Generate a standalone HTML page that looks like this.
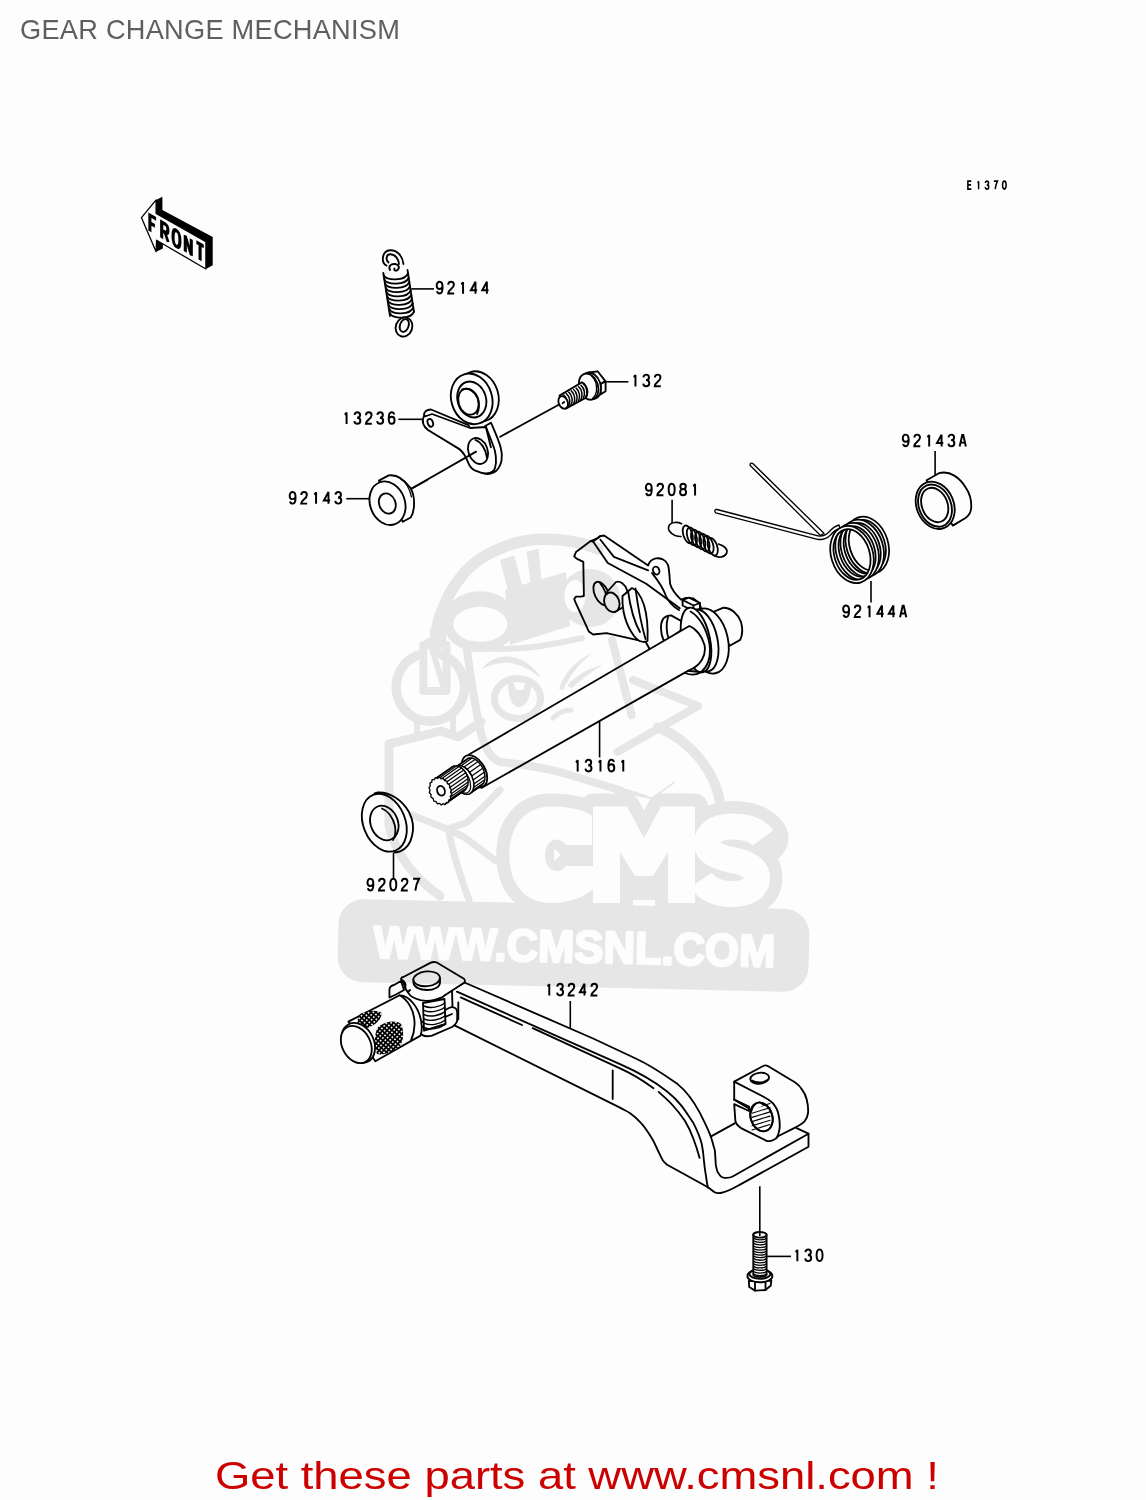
<!DOCTYPE html>
<html><head><meta charset="utf-8"><title>GEAR CHANGE MECHANISM</title>
<style>
html,body{margin:0;padding:0;background:#fcfdfc;}
body{width:1146px;height:1500px;overflow:hidden;position:relative;font-family:"Liberation Sans",sans-serif;}
h1{position:absolute;left:20px;top:13.7px;margin:0;font-weight:normal;font-size:27.2px;line-height:normal;color:#5f5f5f;letter-spacing:0.26px;white-space:nowrap;font-family:"Liberation Sans",sans-serif;}
.get{position:absolute;left:215px;top:1453px;margin:0;font-size:39.5px;line-height:normal;color:#cc0000;white-space:nowrap;transform-origin:0 0;transform:scaleX(1.149);font-family:"Liberation Sans",sans-serif;}
svg{position:absolute;left:0;top:0;}
.wm{mix-blend-mode:multiply;}
#labels text{font-family:"Liberation Sans",sans-serif;fill:#000;}
</style></head><body>
<h1>GEAR CHANGE MECHANISM</h1>
<svg width="1146" height="1500" viewBox="0 0 1146 1500">
<g id="parts" fill="#fcfdfc" stroke="#000" stroke-width="1.85" stroke-linejoin="round" stroke-linecap="round">
<defs><pattern id="knurl" width="3.4" height="3.4" patternUnits="userSpaceOnUse" patternTransform="rotate(40)">
<rect width="3.4" height="3.4" fill="#fcfdfc"/><path d="M0,0 L3.4,0 M0,0 L0,3.4" stroke="#000" stroke-width="0.9"/></pattern></defs><path d="M386.5,265.5 C381,263 381.5,251 390,250.3 C397,249.8 402.5,256 403.5,264" fill="none" stroke-width="1.9"/>
<path d="M388.5,262.5 C385.5,260 386,254 390.5,254.2 C395.5,254.5 398.5,259 399,264" fill="none" stroke-width="1.9"/>
<path d="M390,270 C388,266 391,263.5 395,264 C399,264.5 400,268 397.5,270 C395.5,271.5 393.5,270 394.5,268.5" fill="none" stroke-width="1.9"/>
<path d="M383.6,274.8 C385.1,281.4 405.5,281.0 408.0,273.4" fill="none" stroke-width="1.8"/>
<path d="M384.3,279.1 C385.8,285.6 406.2,285.2 408.7,277.6" fill="none" stroke-width="1.8"/>
<path d="M385.0,283.3 C386.5,289.9 406.8,289.5 409.3,281.9" fill="none" stroke-width="1.8"/>
<path d="M385.8,287.6 C387.3,294.1 407.5,293.8 410.0,286.1" fill="none" stroke-width="1.8"/>
<path d="M386.5,291.8 C388.0,298.4 408.2,298.0 410.7,290.4" fill="none" stroke-width="1.8"/>
<path d="M387.2,296.1 C388.7,302.6 408.8,302.2 411.3,294.6" fill="none" stroke-width="1.8"/>
<path d="M387.9,300.3 C389.4,306.9 409.5,306.5 412.0,298.9" fill="none" stroke-width="1.8"/>
<path d="M388.7,304.6 C390.2,311.1 410.2,310.8 412.7,303.1" fill="none" stroke-width="1.8"/>
<path d="M389.4,308.8 C390.9,315.4 410.8,315.0 413.3,307.4" fill="none" stroke-width="1.8"/>
<path d="M390.1,313.1 C391.6,319.6 411.5,319.2 414.0,311.6" fill="none" stroke-width="1.8"/>
<path d="M383.3,273 L390,316" fill="none" stroke-width="1.8"/>
<path d="M407.5,270 L414,312" fill="none" stroke-width="1.8"/>
<ellipse cx="404.0" cy="327.0" rx="8.2" ry="9.8" transform="rotate(20 404.0 327.0)" fill="none" stroke-width="1.9"/>
<ellipse cx="404.3" cy="325.5" rx="4.3" ry="6.6" transform="rotate(20 404.3 325.5)" fill="none" stroke-width="1.9"/>
<ellipse cx="478.0" cy="396.5" rx="20.3" ry="25.6" transform="rotate(-17 478.0 396.5)" />
<path d="M485.2,426 L491,422.8 C495,432 499,441 500.8,448 C503,456 502,465 496.6,470.4 C492,474 486,474.5 482,473 Z" />
<path d="M424,416 C423.5,412 426.5,409.5 431,409.5 L467.8,424.8 C470.3,426.3 470,430.3 467,431.8 L464,432.6 L429.5,416.5 Z" />
<path d="M423.5,417 C422,421 423,426 428,430 L457.8,448.1 C461,450 463.5,453 465.6,456.9 L469.1,464.7 C471,468 473,470 476.1,470.8 C480,472.5 484,473.5 486.6,473.4 C491,473 494,471.5 495,468 C497,462 496,452 493,445 L486,427 L470,428 L432,414 Z" />
<ellipse cx="430.3" cy="422.8" rx="2.6" ry="4.0" transform="rotate(-20 430.3 422.8)" fill="none"/>
<ellipse cx="478.0" cy="451.0" rx="9.6" ry="13.3" transform="rotate(-20 478.0 451.0)" />
<path d="M475.5,440 C481,442 486,449 487,458" fill="none"/>
<line x1="485.7" y1="426.3" x2="490.9" y2="447.3" />
<ellipse cx="471.7" cy="398.9" rx="20.4" ry="25.7" transform="rotate(-17 471.7 398.9)" />
<ellipse cx="471.8" cy="399.5" rx="14.2" ry="18.3" transform="rotate(-17 471.8 399.5)" fill="none"/>
<ellipse cx="468.5" cy="401.7" rx="10.0" ry="13.3" transform="rotate(-17 468.5 401.7)" />
<path d="M462,389.5 C468,387 474.5,391 477.5,398 C479.5,404 479,410 477,414" fill="none"/>
<line x1="411.3" y1="488.8" x2="476.1" y2="451.6" />
<line x1="427.2" y1="480.0" x2="411.3" y2="488.8" />
<path d="M378.9,480.6 L388.7,475.4 C395,474.5 403,478 410.1,487.6 C413,492 414.1,497 414.1,503 C414.1,509 413,514 410.7,517.5 L402.8,521.8 Z" />
<ellipse cx="387.5" cy="503.2" rx="17.4" ry="22.3" transform="rotate(-20 387.5 503.2)" />
<ellipse cx="387.3" cy="503.5" rx="8.1" ry="10.4" transform="rotate(-22 387.3 503.5)" />
<path d="M400,478.5 C406,482 410,490 411.5,497" fill="none" stroke-width="1.2"/>
<line x1="500.2" y1="436.7" x2="561.0" y2="403.5" />
<path d="M589.1,372.5 L597.6,371.3 L605.6,381.4 L605.6,391.2 L600.7,394.2 L594,397 Z" />
<path d="M592.8,374.4 L600.7,383.8 L605.6,381.4 M600.7,383.8 L600.7,394.2" fill="none"/>
<ellipse cx="591.0" cy="385.8" rx="9.6" ry="13.6" transform="rotate(-18 591.0 385.8)" />
<ellipse cx="588.6" cy="386.6" rx="9.4" ry="13.4" transform="rotate(-18 588.6 386.6)" />
<path d="M591.5,376 C595,379 597,385 596.5,391 C596,394.5 594.5,397 592.5,398.5" fill="none" stroke-width="1.3"/>
<path d="M559.5,395.6 L582,382.3 C585,383.5 587.5,388 587.5,392 C587.5,395 586.5,397 585.5,398 L565.8,408.6 Z" />
<path d="M563.8,395.0 C567.8,398.1 568.0,404.6 566.2,407.8" fill="none" stroke-width="1.5"/>
<path d="M566.3,393.6 C570.3,396.7 570.5,403.2 568.7,406.4" fill="none" stroke-width="1.5"/>
<path d="M568.7,392.2 C572.7,395.3 572.9,401.8 571.1,405.0" fill="none" stroke-width="1.5"/>
<path d="M571.2,390.9 C575.2,394.0 575.4,400.5 573.6,403.7" fill="none" stroke-width="1.5"/>
<path d="M573.6,389.5 C577.6,392.6 577.8,399.1 576.0,402.3" fill="none" stroke-width="1.5"/>
<path d="M576.1,388.1 C580.1,391.2 580.2,397.7 578.5,400.9" fill="none" stroke-width="1.5"/>
<path d="M578.5,386.7 C582.5,389.8 582.7,396.3 580.9,399.5" fill="none" stroke-width="1.5"/>
<path d="M581.0,385.3 C585.0,388.4 585.1,394.9 583.4,398.1" fill="none" stroke-width="1.5"/>
<path d="M583.4,384.0 C587.4,387.1 587.6,393.6 585.8,396.8" fill="none" stroke-width="1.5"/>
<ellipse cx="563.2" cy="402.4" rx="4.5" ry="6.5" transform="rotate(-22 563.2 402.4)" />
<line x1="562.6" y1="403.2" x2="564.2" y2="402.0" />
<path d="M926.6,480.2 L938.9,473.2 C950,470 960,478 966,488 C970,494 971.5,501 971.2,507.3 C971,512 969,515.5 965.9,517.7 L952.8,525.6 Z" />
<ellipse cx="935.2" cy="505.3" rx="18.6" ry="24.4" transform="rotate(-22 935.2 505.3)" />
<ellipse cx="935.0" cy="505.6" rx="16.0" ry="21.8" transform="rotate(-22 935.0 505.6)" fill="none"/>
<ellipse cx="934.7" cy="505.0" rx="12.8" ry="17.8" transform="rotate(-22 934.7 505.0)" />
<path d="M681.6,523.7 C678,522 671,521.5 668.8,526 C667.5,529.5 670,533.5 675,535.5 C677,536.2 679,536.5 680.9,536.5" fill="none" stroke-width="1.7"/>
<path d="M714.5,555.8 C718,557.8 724,557.8 726.5,553.5 C728.3,549.3 724.5,546 718.5,544" fill="none" stroke-width="1.7"/>
<ellipse cx="687.8" cy="534.4" rx="4.5" ry="9.2" transform="rotate(-18 687.8 534.4)" fill="none" stroke-width="1.8"/>
<ellipse cx="691.9" cy="536.4" rx="4.5" ry="9.2" transform="rotate(-18 691.9 536.4)" fill="none" stroke-width="1.8"/>
<ellipse cx="696.1" cy="538.5" rx="4.5" ry="9.2" transform="rotate(-18 696.1 538.5)" fill="none" stroke-width="1.8"/>
<ellipse cx="700.2" cy="540.5" rx="4.5" ry="9.2" transform="rotate(-18 700.2 540.5)" fill="none" stroke-width="1.8"/>
<ellipse cx="704.4" cy="542.6" rx="4.5" ry="9.2" transform="rotate(-18 704.4 542.6)" fill="none" stroke-width="1.8"/>
<ellipse cx="708.5" cy="544.6" rx="4.5" ry="9.2" transform="rotate(-18 708.5 544.6)" fill="none" stroke-width="1.8"/>
<ellipse cx="712.7" cy="546.7" rx="4.5" ry="9.2" transform="rotate(-18 712.7 546.7)" fill="none" stroke-width="1.8"/>
<path d="M750.2,465.5 C749.5,463.5 751.5,462.5 752.8,463.5 L824,533.3 L820.5,535.5 Z" stroke-width="1.3"/>
<path d="M715.8,512.8 C714,511.5 715,509 717,509.5 L818,535.8 C822,536.5 826,535 829,532 C832,528.5 835,526 839,525 L840,528.5 C836,529.5 833,532 830.5,535 C827,538.5 822,540 817.5,539.3 Z" stroke-width="1.3"/>
<ellipse cx="867.3" cy="545.2" rx="19.2" ry="27.6" transform="rotate(-18 867.3 545.2)" fill="none" stroke-width="5.0"/>
<ellipse cx="867.3" cy="545.2" rx="19.2" ry="27.6" transform="rotate(-18 867.3 545.2)" fill="none" stroke="#fcfdfc" stroke-width="1.5"/>
<ellipse cx="862.2" cy="548.3" rx="19.2" ry="27.6" transform="rotate(-18 862.2 548.3)" fill="none" stroke-width="5.0"/>
<ellipse cx="862.2" cy="548.3" rx="19.2" ry="27.6" transform="rotate(-18 862.2 548.3)" fill="none" stroke="#fcfdfc" stroke-width="1.5"/>
<ellipse cx="857.1" cy="551.4" rx="19.2" ry="27.6" transform="rotate(-18 857.1 551.4)" fill="none" stroke-width="5.0"/>
<ellipse cx="857.1" cy="551.4" rx="19.2" ry="27.6" transform="rotate(-18 857.1 551.4)" fill="none" stroke="#fcfdfc" stroke-width="1.5"/>
<ellipse cx="852.0" cy="554.5" rx="19.2" ry="27.6" transform="rotate(-18 852.0 554.5)" fill="none" stroke-width="5.0"/>
<ellipse cx="852.0" cy="554.5" rx="19.2" ry="27.6" transform="rotate(-18 852.0 554.5)" fill="none" stroke="#fcfdfc" stroke-width="1.5"/>
<path d="M574.2,556.3 L576,552 L590.7,541 L598,538 L600.4,536.1 L604.1,535.5 L648.1,565.4 C649.5,561 652,559 656,558.3 C661,557.8 666,560 668,565 C669.5,570 669.5,578 670.1,583.8 C671.5,589 675,594 681,599.6 L686,597.8 L693.3,598.4 L699.4,603.3 L712,640 L700,672 L660,668 L645.6,641.8 L606.5,633.2 L593.1,634.5 L588.8,631.4 L575.4,602.1 L574.2,599 L576,596.6 L580.9,596.6 L583.9,596 L583.3,561.8 L576.6,558.7 Z" />
<path d="M590.7,541 L593.1,541.5 L607.8,563 L646.2,583.8 L679.8,608.2" fill="none"/>
<path d="M600.4,539.8 L613.9,556.9 L648.1,570.3" fill="none"/>
<path d="M593.1,541.5 L600.4,536.1" fill="none"/>
<ellipse cx="656.2" cy="570.6" rx="3.1" ry="4.1" transform="rotate(-20 656.2 570.6)" />
<path d="M652,573 C656,578 662,585 666,596 C668,601 672,606 679,610" fill="none"/>
<ellipse cx="601.5" cy="593.5" rx="6.8" ry="12.5" transform="rotate(-25 601.5 593.5)" />
<path d="M600,583 C604,588 607,595 607.5,602" fill="none"/>
<path d="M607,592 L616,582 C620,580.5 625,584 627,590 C629,597 628,603 625,606 L615,612 Z" />
<ellipse cx="611.8" cy="602.3" rx="7.4" ry="10.0" transform="rotate(-20 611.8 602.3)" />
<path d="M622.5,596 C622,610 626,625 634,636 C638,641 643,643 647.5,641 C648,630 647,615 644,605 C641,596 637,590 632,588 Z" />
<path d="M635.5,588.5 C637,600 640,620 645.5,639" fill="none"/>
<path d="M628,591 C630,605 633,620 640,632" fill="none"/>
<path d="M663.4,639.9 C660.5,633 660,624 663,619 C665,616.5 668,615.5 671.1,615.4 L688.4,625 L666,641 Z" />
<path d="M668,617 C666,624 666.5,633 669,640" fill="none"/>
<path d="M682.6,600 L689,597.7 L699.9,603 L699.9,608.8 L693.5,611 L682.6,605.5 Z" />
<path d="M693.5,605.5 L699.9,603 M693.5,605.5 L693.5,611 M682.6,600 L693.5,605.5" fill="none"/>
<path d="M709.5,613.5 L722.9,607.8 C731,607.5 738,614 741,622 C743,629 742,636 740.2,639.9 L729.7,645.7 Z" />
<ellipse cx="708.5" cy="641.0" rx="19.5" ry="33.0" transform="rotate(-12 708.5 641.0)" />
<ellipse cx="702.0" cy="640.5" rx="15.5" ry="31.5" transform="rotate(-12 702.0 640.5)" />
<ellipse cx="696.0" cy="640.0" rx="14.0" ry="33.0" transform="rotate(-12 696.0 640.0)" />
<path d="M469,754.5 L689.3,626 C696,628.5 702,636 704.5,645 C706.5,655 701,666 688.4,670.6 L481.8,787.8 Z" />
<path d="M690.5,611.5 C700,617 707,630 709.5,644 C711,656 708,667 700,672.8 C696,675 690,675 685,673" fill="none"/>
<ellipse cx="474.5" cy="771.3" rx="10.6" ry="17.6" transform="rotate(-30 474.5 771.3)" />
<polygon points="456.6,766.2 458.2,765.7 459.9,765.7 461.8,766.0 463.7,766.8 465.5,768.0 467.3,769.6 469.0,771.5 470.5,773.6 471.7,775.9 472.7,778.4 473.4,780.9 473.7,783.4 473.8,785.7 473.5,787.9 472.9,789.9 472.0,791.6 470.8,792.9 469.4,793.8 480.5,786.1 481.9,785.2 483.1,783.9 484.0,782.2 484.6,780.3 484.9,778.1 484.8,775.7 484.4,773.2 483.8,770.7 482.8,768.2 481.5,765.9 480.0,763.8 478.4,761.9 476.6,760.3 474.7,759.1 472.9,758.3 471.0,758.0 469.3,758.0 467.6,758.5" stroke-width="1.4"/>
<line x1="458.2" y1="765.7" x2="469.3" y2="758.0" stroke-width="1.2"/>
<line x1="461.0" y1="765.8" x2="472.1" y2="758.1" stroke-width="1.2"/>
<line x1="464.0" y1="767.0" x2="475.1" y2="759.4" stroke-width="1.2"/>
<line x1="467.0" y1="769.3" x2="478.0" y2="761.6" stroke-width="1.2"/>
<line x1="469.6" y1="772.3" x2="480.7" y2="764.6" stroke-width="1.2"/>
<line x1="471.7" y1="775.9" x2="482.8" y2="768.2" stroke-width="1.2"/>
<line x1="473.1" y1="779.9" x2="484.2" y2="772.2" stroke-width="1.2"/>
<line x1="473.8" y1="783.9" x2="484.9" y2="776.2" stroke-width="1.2"/>
<line x1="473.6" y1="787.5" x2="484.7" y2="779.8" stroke-width="1.2"/>
<line x1="472.6" y1="790.6" x2="483.7" y2="782.9" stroke-width="1.2"/>
<line x1="470.8" y1="792.9" x2="481.9" y2="785.2" stroke-width="1.2"/>
<ellipse cx="463.0" cy="780.0" rx="9.6" ry="15.2" transform="rotate(-25 463.0 780.0)" stroke-width="1.4"/>
<ellipse cx="461.8" cy="780.8" rx="7.6" ry="13.2" transform="rotate(-25 461.8 780.8)" fill="none" stroke-width="1.2"/>
<polygon points="435.6,778.3 437.4,777.9 439.2,777.9 441.1,778.3 442.9,779.1 444.7,780.2 446.3,781.7 447.7,783.5 448.9,785.4 449.9,787.6 450.5,789.9 450.9,792.2 450.9,794.5 450.6,796.6 450.0,798.6 449.1,800.4 447.9,801.9 446.5,803.1 445.0,803.9 462.2,791.9 463.8,791.1 465.2,789.9 466.3,788.5 467.2,786.7 467.9,784.7 468.1,782.5 468.1,780.2 467.8,777.9 467.1,775.6 466.2,773.5 464.9,771.5 463.5,769.7 461.9,768.2 460.1,767.1 458.3,766.3 456.4,765.9 454.6,765.9 452.9,766.4" stroke-width="1.4"/>
<line x1="436.7" y1="778.0" x2="453.9" y2="766.1" stroke-width="1.2"/>
<line x1="439.2" y1="777.9" x2="456.4" y2="765.9" stroke-width="1.2"/>
<line x1="441.8" y1="778.6" x2="459.0" y2="766.6" stroke-width="1.2"/>
<line x1="444.3" y1="780.0" x2="461.5" y2="768.0" stroke-width="1.2"/>
<line x1="446.6" y1="782.0" x2="463.8" y2="770.0" stroke-width="1.2"/>
<line x1="448.5" y1="784.6" x2="465.7" y2="772.7" stroke-width="1.2"/>
<line x1="449.9" y1="787.6" x2="467.1" y2="775.6" stroke-width="1.2"/>
<line x1="450.7" y1="790.8" x2="467.9" y2="778.8" stroke-width="1.2"/>
<line x1="450.9" y1="794.0" x2="468.2" y2="782.0" stroke-width="1.2"/>
<line x1="450.5" y1="797.1" x2="467.8" y2="785.1" stroke-width="1.2"/>
<line x1="449.5" y1="799.7" x2="466.7" y2="787.8" stroke-width="1.2"/>
<line x1="447.9" y1="801.9" x2="465.2" y2="789.9" stroke-width="1.2"/>
<line x1="445.9" y1="803.4" x2="463.1" y2="791.5" stroke-width="1.2"/>
<polygon points="435.4,777.6 437.6,778.5 439.2,777.1 441.1,778.9 443.2,778.3 444.6,780.7 446.8,781.1 447.5,783.8 449.6,785.0 449.6,787.7 451.3,789.7 450.6,792.1 451.7,794.6 450.3,796.3 450.7,799.0 448.8,800.0 448.5,802.5 446.3,802.5 445.2,804.6 443.0,803.7 441.4,805.1 439.5,803.3 437.4,803.9 436.0,801.5 433.8,801.1 433.1,798.4 431.0,797.2 431.0,794.5 429.3,792.5 430.0,790.1 428.9,787.6 430.3,785.9 429.9,783.2 431.8,782.2 432.1,779.7 434.3,779.7" stroke-width="1.3"/>
<ellipse cx="441.0" cy="790.8" rx="3.8" ry="4.9" transform="rotate(-20 441.0 790.8)" />
<path d="M374.5,793.5 L378,792.5 C390,792 402,800 409,812 C413,820 414,829 412,836 C410.5,843 406,849 400,851.5 L395,852.5 Z" />
<ellipse cx="384.3" cy="822.7" rx="21.0" ry="30.0" transform="rotate(-22 384.3 822.7)" />
<ellipse cx="384.3" cy="823.0" rx="13.6" ry="17.8" transform="rotate(-22 384.3 823.0)" />
<path d="M382,808.5 C388,811 393,818 395,826 C396,832 395,837 393,840" fill="none"/>
<path d="M452,990 L464.5,982.5 L593.1,1038.5 L635.7,1058.5 C650,1065 662,1073 677.6,1084.1 C685,1090 693,1100 699.6,1112.4 C704,1121 709,1131 711.1,1137.5 C713,1143 714.5,1150 714.8,1150 C715.5,1157 715.5,1162 715.8,1164.7 C716.5,1169 717,1172 718.4,1173.1 C720,1176 722,1177.8 724.7,1177.8 C728,1178 731,1177.5 733.1,1176.2 L808.5,1133.7 L808.5,1146.8 L740,1184.6 C733,1188.5 727,1192 720.5,1193 C717,1193.5 716,1193 714.2,1192 L708,1187.2 L667.1,1164.7 C665,1163 664,1162 662.9,1160.5 C660,1155 659,1152.5 657.7,1150 C655,1144 653,1140 651.4,1137.5 C648,1132 644,1126 640.9,1122.8 C637,1118.5 633.5,1115.5 630.5,1113.4 C627,1111 623,1109.5 620,1107.6 L453,1024.6 Z" />
<line x1="711.1" y1="1136.4" x2="734.7" y2="1123.4" />
<line x1="796.6" y1="1128.1" x2="808.5" y2="1133.7" />
<path d="M456.9,991.7 L620,1064.2 C640,1073 655,1082 667.1,1091.4 C673,1096 677,1100 681.8,1106.1 C687,1113 690,1118 693.3,1122.8 C697,1130 700,1137 701.7,1143.8 C703,1150 703.5,1155 703.8,1159.5 C704.5,1166 705,1171 705.9,1175.2 C706.5,1180 707,1184 708,1187.7" fill="none"/>
<path d="M460.7,997.4 L522,1025 M532.7,1028.2 L620,1068.4 C635,1075 645,1082 653.5,1088.3 M658.7,1091.9 C663,1096 668,1100 672.4,1105 C677,1110 681,1115 684.9,1120.7 C688,1126 691,1132 693.3,1138.5 C695,1143 698,1152 699.6,1157.9" fill="none"/>
<line x1="458.3" y1="1002.4" x2="458.3" y2="1019.4" />
<line x1="612.7" y1="1070.4" x2="612.7" y2="1099.0" />
<path d="M734.2,1081.6 L763.7,1065.7 C765,1065 767,1065.5 768.3,1066.2 L789.8,1079.3 C795,1082 799,1085 801.2,1088.4 C804,1092 806,1096 806.8,1099.7 C808,1105 808.5,1109 808,1113.3 C807.5,1117 806,1119.5 804.6,1121.3 C802,1124 799,1125.5 796.6,1126.9 L778.5,1136 C776,1139 772,1141.5 767.1,1141.1 L741,1128.1 C738,1126 736,1124 735.4,1121.3 L734.2,1104.2 L749,1111 L749,1108.5 L734.2,1099.7 Z" />
<path d="M734.2,1081.6 L762.6,1096.3 C768,1099 771.5,1102 772.8,1103.1 C776,1107 778,1111 778.5,1114.5 C779.5,1119 780,1124 779.6,1128.1 C779,1133 777.5,1136.5 776.2,1138.3" fill="none"/>
<path d="M734.2,1099.7 L749,1106.5 L749,1108.5" fill="none"/>
<ellipse cx="761.5" cy="1117.0" rx="10.8" ry="14.6" transform="rotate(-18 761.5 1117.0)" />
<line x1="752.0" y1="1109.0" x2="770.0" y2="1103.5" stroke-width="1.1"/>
<line x1="752.0" y1="1113.2" x2="770.0" y2="1107.7" stroke-width="1.1"/>
<line x1="752.0" y1="1117.4" x2="770.0" y2="1111.9" stroke-width="1.1"/>
<line x1="752.0" y1="1121.6" x2="770.0" y2="1116.1" stroke-width="1.1"/>
<line x1="752.0" y1="1125.8" x2="770.0" y2="1120.3" stroke-width="1.1"/>
<line x1="752.0" y1="1130.0" x2="770.0" y2="1124.5" stroke-width="1.1"/>
<ellipse cx="761.5" cy="1117.0" rx="10.8" ry="14.6" transform="rotate(-18 761.5 1117.0)" fill="none"/>
<path d="M751,1112 C752,1106 756,1102 760,1102.5 L764,1105" fill="#fcfdfc"/>
<ellipse cx="759.7" cy="1078.2" rx="9.4" ry="5.4" transform="rotate(-8 759.7 1078.2)" />
<path d="M752,1080.5 C755,1083 764,1083.5 767.5,1080" fill="none"/>
<path d="M389.5,997.5 L389.4,990 C389.5,987 391,985.5 394,985 L401,981 L404,990 L396,994.5 Z" />
<path d="M420.5,1023 L449,1008 C453,1006 457,1008 457.2,1012 L457.2,1020 C457,1023 455,1025 452,1027 L432,1035.6 C426,1037 422,1036 420.5,1033 Z" />
<path d="M420.5,1027.5 L452,1014" fill="none"/>
<path d="M423,1003 L444.5,999 L445.5,1024 L424,1030.7 Z" />
<path d="M424,1006.0 C430,1009.0 440,1007.0 445,1003.0" fill="none" stroke-width="1.4"/>
<path d="M424,1010.3 C430,1013.3 440,1011.3 445,1007.3" fill="none" stroke-width="1.4"/>
<path d="M424,1014.6 C430,1017.6 440,1015.6 445,1011.6" fill="none" stroke-width="1.4"/>
<path d="M424,1018.9 C430,1021.9 440,1019.9 445,1015.9" fill="none" stroke-width="1.4"/>
<path d="M424,1023.2 C430,1026.2 440,1024.2 445,1020.2" fill="none" stroke-width="1.4"/>
<path d="M424,1027.5 C430,1030.5 440,1028.5 445,1024.5" fill="none" stroke-width="1.4"/>
<path d="M401,978.8 C401.5,977.5 402.5,977 403.4,977 L430.3,962.9 C432,962 434.5,961.8 436.4,962.3 L463.9,978.8 C465,979.5 465,981.5 464.5,982.5 L446,994.5 C444,996 443.5,996.5 442.5,997.1 C435,1000.5 427,1001.5 420.5,1000.2 C414,998.5 410,996 408.3,992.9 C406,990 405,988 404.6,985.5 Z" />
<path d="M405,988 C407,983 403,980.5 401.5,980" fill="none"/>
<path d="M408,992 L410,990" fill="none"/>
<path d="M413.5,979 L413.5,983 C414,987.5 420,990 427,990 C434,990 440,987 440,982.5 L440,979 Z" />
<ellipse cx="426.7" cy="978.8" rx="13.3" ry="7.4" transform="rotate(-5 426.7 978.8)" />
<path d="M348.4,1021.6 L399.7,995.3 C405,995.5 410,999 413,1003 C418,1009 421,1016 421.7,1025.9 C422,1030 421.5,1033 420.5,1035.6 L375.3,1061.3 Z" />
<path d="M360,1014 C368,1010 378,1010 381.5,1013 C382,1018 377,1024 369,1027.5 C363,1029 358,1026 357,1021 Z" fill="url(#knurl)" stroke="none"/>
<path d="M378,1027 C386,1021 396,1020 401,1024 C404,1030 404,1040 400,1046 C394,1051 384,1056 377,1054 C374,1046 374,1034 378,1027 Z" fill="url(#knurl)" stroke="none"/>
<path d="M399.7,995.3 C408,1000 414,1010 414.5,1022 C415,1030 413,1036 411,1040.5" fill="none"/>
<ellipse cx="358.2" cy="1043.0" rx="15.6" ry="21.0" transform="rotate(-27 358.2 1043.0)" />
<ellipse cx="356.3" cy="1044.5" rx="14.2" ry="19.6" transform="rotate(-27 356.3 1044.5)" />
<path d="M748.8,1281 L749.2,1287 L755,1290.6 L765.5,1290 L770.8,1285.5 L771.3,1280.5 Z" />
<path d="M755,1283 L755,1290.6 M765.5,1282.5 L765.5,1290" fill="none"/>
<ellipse cx="759.9" cy="1276.0" rx="12.5" ry="6.3" transform="rotate(0 759.9 1276.0)" />
<ellipse cx="759.9" cy="1274.0" rx="10.5" ry="4.8" transform="rotate(0 759.9 1274.0)" fill="none"/>
<path d="M753.3,1234.5 L753.3,1275 C755,1277.5 765,1277.5 766.6,1275 L766.6,1234.5 Z" />
<path d="M753.5,1238.2 C756,1240.4 764,1240.4 766.4,1238.2" fill="none" stroke-width="1.3"/>
<path d="M753.5,1240.8 C756,1243.0 764,1243.0 766.4,1240.8" fill="none" stroke-width="1.3"/>
<path d="M753.5,1243.3 C756,1245.5 764,1245.5 766.4,1243.3" fill="none" stroke-width="1.3"/>
<path d="M753.5,1245.9 C756,1248.1 764,1248.1 766.4,1245.9" fill="none" stroke-width="1.3"/>
<path d="M753.5,1248.4 C756,1250.6 764,1250.6 766.4,1248.4" fill="none" stroke-width="1.3"/>
<path d="M753.5,1251.0 C756,1253.2 764,1253.2 766.4,1251.0" fill="none" stroke-width="1.3"/>
<path d="M753.5,1253.5 C756,1255.7 764,1255.7 766.4,1253.5" fill="none" stroke-width="1.3"/>
<path d="M753.5,1256.0 C756,1258.2 764,1258.2 766.4,1256.0" fill="none" stroke-width="1.3"/>
<path d="M753.5,1258.6 C756,1260.8 764,1260.8 766.4,1258.6" fill="none" stroke-width="1.3"/>
<path d="M753.5,1261.2 C756,1263.4 764,1263.4 766.4,1261.2" fill="none" stroke-width="1.3"/>
<path d="M753.5,1263.7 C756,1265.9 764,1265.9 766.4,1263.7" fill="none" stroke-width="1.3"/>
<path d="M753.5,1266.2 C756,1268.5 764,1268.5 766.4,1266.2" fill="none" stroke-width="1.3"/>
<path d="M753.5,1268.8 C756,1271.0 764,1271.0 766.4,1268.8" fill="none" stroke-width="1.3"/>
<path d="M753.5,1271.4 C756,1273.6 764,1273.6 766.4,1271.4" fill="none" stroke-width="1.3"/>
<path d="M753.5,1273.9 C756,1276.1 764,1276.1 766.4,1273.9" fill="none" stroke-width="1.3"/>
<ellipse cx="759.9" cy="1234.8" rx="6.6" ry="2.8" transform="rotate(0 759.9 1234.8)" />
</g>
<g id="leaders" stroke="#000" stroke-width="1.6">
<line x1="411.3" y1="288.9" x2="434.0" y2="288.9"/>
<line x1="602.8" y1="381.8" x2="628.4" y2="381.8"/>
<line x1="398.3" y1="419.3" x2="422.2" y2="419.3"/>
<line x1="346.3" y1="498.7" x2="369.9" y2="498.7"/>
<line x1="672.1" y1="499.7" x2="672.1" y2="522.9"/>
<line x1="935.1" y1="451.0" x2="935.1" y2="475.0"/>
<line x1="871.0" y1="581.0" x2="871.0" y2="602.5"/>
<line x1="599.6" y1="721.3" x2="599.6" y2="757.4"/>
<line x1="393.5" y1="852.4" x2="393.5" y2="878.2"/>
<line x1="570.3" y1="1001.0" x2="570.3" y2="1028.5"/>
<line x1="759.8" y1="1186.3" x2="759.8" y2="1236.0"/>
<line x1="766.6" y1="1256.4" x2="791.0" y2="1256.4"/>
</g>
<g id="labels" fill="none" stroke="#000" stroke-linecap="butt" stroke-linejoin="miter" stroke-miterlimit="3">
<path transform="translate(436.47,281.63) scale(1.0,1.0)" d="M0.5,9.6 C0.9,11 1.8,11.8 3.1,11.8 C5.1,11.8 6.1,9.4 6.1,5.6 C6.1,2 5,0.2 3.1,0.2 C1.4,0.2 0.2,1.7 0.2,3.8 C0.2,6 1.4,7.3 3.1,7.3 C4.6,7.3 5.7,6.4 6.1,5" stroke-width="1.95"/>
<path transform="translate(447.87,281.63) scale(1.0,1.0)" d="M0.4,3.1 C0.4,1.2 1.6,0.2 3.2,0.2 C4.9,0.2 6,1.3 6,3.1 C6,5.1 4.6,6.3 3,7.6 C1.5,8.8 0.4,10 0.3,11.8 L6.3,11.8" stroke-width="1.95"/>
<path transform="translate(459.27,281.63) scale(1.0,1.0)" d="M1.9,2.5 C2.8,2.0 3.4,1.3 3.8,0.5 L3.8,12" stroke-width="1.95"/>
<path transform="translate(470.67,281.63) scale(1.0,1.0)" d="M4.8,12 L4.8,0.2 L0.2,8.6 L6.5,8.6" stroke-width="1.95"/>
<path transform="translate(482.07,281.63) scale(1.0,1.0)" d="M4.8,12 L4.8,0.2 L0.2,8.6 L6.5,8.6" stroke-width="1.95"/>
<path transform="translate(631.67,374.43) scale(1.0,1.0)" d="M1.9,2.5 C2.8,2.0 3.4,1.3 3.8,0.5 L3.8,12" stroke-width="1.95"/>
<path transform="translate(643.07,374.43) scale(1.0,1.0)" d="M0.4,2.9 C0.6,1.1 1.8,0.2 3.2,0.2 C4.8,0.2 5.9,1.3 5.9,3 C5.9,4.7 4.7,5.7 2.9,5.7 M2.9,5.7 C5,5.7 6.2,7 6.2,8.7 C6.2,10.6 4.9,11.8 3.2,11.8 C1.6,11.8 0.4,10.8 0.2,9.1" stroke-width="1.95"/>
<path transform="translate(654.47,374.43) scale(1.0,1.0)" d="M0.4,3.1 C0.4,1.2 1.6,0.2 3.2,0.2 C4.9,0.2 6,1.3 6,3.1 C6,5.1 4.6,6.3 3,7.6 C1.5,8.8 0.4,10 0.3,11.8 L6.3,11.8" stroke-width="1.95"/>
<path transform="translate(342.77,412.03) scale(1.0,1.0)" d="M1.9,2.5 C2.8,2.0 3.4,1.3 3.8,0.5 L3.8,12" stroke-width="1.95"/>
<path transform="translate(354.17,412.03) scale(1.0,1.0)" d="M0.4,2.9 C0.6,1.1 1.8,0.2 3.2,0.2 C4.8,0.2 5.9,1.3 5.9,3 C5.9,4.7 4.7,5.7 2.9,5.7 M2.9,5.7 C5,5.7 6.2,7 6.2,8.7 C6.2,10.6 4.9,11.8 3.2,11.8 C1.6,11.8 0.4,10.8 0.2,9.1" stroke-width="1.95"/>
<path transform="translate(365.57,412.03) scale(1.0,1.0)" d="M0.4,3.1 C0.4,1.2 1.6,0.2 3.2,0.2 C4.9,0.2 6,1.3 6,3.1 C6,5.1 4.6,6.3 3,7.6 C1.5,8.8 0.4,10 0.3,11.8 L6.3,11.8" stroke-width="1.95"/>
<path transform="translate(376.97,412.03) scale(1.0,1.0)" d="M0.4,2.9 C0.6,1.1 1.8,0.2 3.2,0.2 C4.8,0.2 5.9,1.3 5.9,3 C5.9,4.7 4.7,5.7 2.9,5.7 M2.9,5.7 C5,5.7 6.2,7 6.2,8.7 C6.2,10.6 4.9,11.8 3.2,11.8 C1.6,11.8 0.4,10.8 0.2,9.1" stroke-width="1.95"/>
<path transform="translate(388.38,412.03) scale(1.0,1.0)" d="M5.9,2.4 C5.5,1 4.6,0.2 3.3,0.2 C1.3,0.2 0.3,2.6 0.3,6.4 C0.3,10 1.4,11.8 3.3,11.8 C5,11.8 6.2,10.3 6.2,8.2 C6.2,6 5,4.7 3.3,4.7 C1.8,4.7 0.7,5.6 0.3,7" stroke-width="1.95"/>
<path transform="translate(289.47,491.83) scale(1.0,1.0)" d="M0.5,9.6 C0.9,11 1.8,11.8 3.1,11.8 C5.1,11.8 6.1,9.4 6.1,5.6 C6.1,2 5,0.2 3.1,0.2 C1.4,0.2 0.2,1.7 0.2,3.8 C0.2,6 1.4,7.3 3.1,7.3 C4.6,7.3 5.7,6.4 6.1,5" stroke-width="1.95"/>
<path transform="translate(300.87,491.83) scale(1.0,1.0)" d="M0.4,3.1 C0.4,1.2 1.6,0.2 3.2,0.2 C4.9,0.2 6,1.3 6,3.1 C6,5.1 4.6,6.3 3,7.6 C1.5,8.8 0.4,10 0.3,11.8 L6.3,11.8" stroke-width="1.95"/>
<path transform="translate(312.27,491.83) scale(1.0,1.0)" d="M1.9,2.5 C2.8,2.0 3.4,1.3 3.8,0.5 L3.8,12" stroke-width="1.95"/>
<path transform="translate(323.67,491.83) scale(1.0,1.0)" d="M4.8,12 L4.8,0.2 L0.2,8.6 L6.5,8.6" stroke-width="1.95"/>
<path transform="translate(335.07,491.83) scale(1.0,1.0)" d="M0.4,2.9 C0.6,1.1 1.8,0.2 3.2,0.2 C4.8,0.2 5.9,1.3 5.9,3 C5.9,4.7 4.7,5.7 2.9,5.7 M2.9,5.7 C5,5.7 6.2,7 6.2,8.7 C6.2,10.6 4.9,11.8 3.2,11.8 C1.6,11.8 0.4,10.8 0.2,9.1" stroke-width="1.95"/>
<path transform="translate(645.67,483.53) scale(1.0,1.0)" d="M0.5,9.6 C0.9,11 1.8,11.8 3.1,11.8 C5.1,11.8 6.1,9.4 6.1,5.6 C6.1,2 5,0.2 3.1,0.2 C1.4,0.2 0.2,1.7 0.2,3.8 C0.2,6 1.4,7.3 3.1,7.3 C4.6,7.3 5.7,6.4 6.1,5" stroke-width="1.95"/>
<path transform="translate(657.07,483.53) scale(1.0,1.0)" d="M0.4,3.1 C0.4,1.2 1.6,0.2 3.2,0.2 C4.9,0.2 6,1.3 6,3.1 C6,5.1 4.6,6.3 3,7.6 C1.5,8.8 0.4,10 0.3,11.8 L6.3,11.8" stroke-width="1.95"/>
<path transform="translate(668.47,483.53) scale(1.0,1.0)" d="M3.2,0.2 C5.1,0.2 6.2,2.6 6.2,6 C6.2,9.4 5.1,11.8 3.2,11.8 C1.3,11.8 0.2,9.4 0.2,6 C0.2,2.6 1.3,0.2 3.2,0.2 Z" stroke-width="1.95"/>
<path transform="translate(679.88,483.53) scale(1.0,1.0)" d="M3.2,5.6 C1.6,5.6 0.5,4.6 0.5,2.9 C0.5,1.2 1.6,0.2 3.2,0.2 C4.8,0.2 5.9,1.2 5.9,2.9 C5.9,4.6 4.8,5.6 3.2,5.6 C1.4,5.6 0.2,6.9 0.2,8.7 C0.2,10.6 1.5,11.8 3.2,11.8 C4.9,11.8 6.2,10.6 6.2,8.7 C6.2,6.9 5,5.6 3.2,5.6 Z" stroke-width="1.95"/>
<path transform="translate(691.27,483.53) scale(1.0,1.0)" d="M1.9,2.5 C2.8,2.0 3.4,1.3 3.8,0.5 L3.8,12" stroke-width="1.95"/>
<path transform="translate(902.57,434.43) scale(1.0,1.0)" d="M0.5,9.6 C0.9,11 1.8,11.8 3.1,11.8 C5.1,11.8 6.1,9.4 6.1,5.6 C6.1,2 5,0.2 3.1,0.2 C1.4,0.2 0.2,1.7 0.2,3.8 C0.2,6 1.4,7.3 3.1,7.3 C4.6,7.3 5.7,6.4 6.1,5" stroke-width="1.95"/>
<path transform="translate(913.97,434.43) scale(1.0,1.0)" d="M0.4,3.1 C0.4,1.2 1.6,0.2 3.2,0.2 C4.9,0.2 6,1.3 6,3.1 C6,5.1 4.6,6.3 3,7.6 C1.5,8.8 0.4,10 0.3,11.8 L6.3,11.8" stroke-width="1.95"/>
<path transform="translate(925.37,434.43) scale(1.0,1.0)" d="M1.9,2.5 C2.8,2.0 3.4,1.3 3.8,0.5 L3.8,12" stroke-width="1.95"/>
<path transform="translate(936.77,434.43) scale(1.0,1.0)" d="M4.8,12 L4.8,0.2 L0.2,8.6 L6.5,8.6" stroke-width="1.95"/>
<path transform="translate(948.17,434.43) scale(1.0,1.0)" d="M0.4,2.9 C0.6,1.1 1.8,0.2 3.2,0.2 C4.8,0.2 5.9,1.3 5.9,3 C5.9,4.7 4.7,5.7 2.9,5.7 M2.9,5.7 C5,5.7 6.2,7 6.2,8.7 C6.2,10.6 4.9,11.8 3.2,11.8 C1.6,11.8 0.4,10.8 0.2,9.1" stroke-width="1.95"/>
<path transform="translate(959.57,434.43) scale(1.0,1.0)" d="M0.1,12 L2.7,0.5 L3.7,0.5 L6.3,12 M1.1,8.2 L5.3,8.2" stroke-width="1.95"/>
<path transform="translate(842.98,605.23) scale(1.0,1.0)" d="M0.5,9.6 C0.9,11 1.8,11.8 3.1,11.8 C5.1,11.8 6.1,9.4 6.1,5.6 C6.1,2 5,0.2 3.1,0.2 C1.4,0.2 0.2,1.7 0.2,3.8 C0.2,6 1.4,7.3 3.1,7.3 C4.6,7.3 5.7,6.4 6.1,5" stroke-width="1.95"/>
<path transform="translate(854.38,605.23) scale(1.0,1.0)" d="M0.4,3.1 C0.4,1.2 1.6,0.2 3.2,0.2 C4.9,0.2 6,1.3 6,3.1 C6,5.1 4.6,6.3 3,7.6 C1.5,8.8 0.4,10 0.3,11.8 L6.3,11.8" stroke-width="1.95"/>
<path transform="translate(865.77,605.23) scale(1.0,1.0)" d="M1.9,2.5 C2.8,2.0 3.4,1.3 3.8,0.5 L3.8,12" stroke-width="1.95"/>
<path transform="translate(877.18,605.23) scale(1.0,1.0)" d="M4.8,12 L4.8,0.2 L0.2,8.6 L6.5,8.6" stroke-width="1.95"/>
<path transform="translate(888.58,605.23) scale(1.0,1.0)" d="M4.8,12 L4.8,0.2 L0.2,8.6 L6.5,8.6" stroke-width="1.95"/>
<path transform="translate(899.98,605.23) scale(1.0,1.0)" d="M0.1,12 L2.7,0.5 L3.7,0.5 L6.3,12 M1.1,8.2 L5.3,8.2" stroke-width="1.95"/>
<path transform="translate(573.88,759.62) scale(1.0,1.0)" d="M1.9,2.5 C2.8,2.0 3.4,1.3 3.8,0.5 L3.8,12" stroke-width="1.95"/>
<path transform="translate(585.27,759.62) scale(1.0,1.0)" d="M0.4,2.9 C0.6,1.1 1.8,0.2 3.2,0.2 C4.8,0.2 5.9,1.3 5.9,3 C5.9,4.7 4.7,5.7 2.9,5.7 M2.9,5.7 C5,5.7 6.2,7 6.2,8.7 C6.2,10.6 4.9,11.8 3.2,11.8 C1.6,11.8 0.4,10.8 0.2,9.1" stroke-width="1.95"/>
<path transform="translate(596.67,759.62) scale(1.0,1.0)" d="M1.9,2.5 C2.8,2.0 3.4,1.3 3.8,0.5 L3.8,12" stroke-width="1.95"/>
<path transform="translate(608.08,759.62) scale(1.0,1.0)" d="M5.9,2.4 C5.5,1 4.6,0.2 3.3,0.2 C1.3,0.2 0.3,2.6 0.3,6.4 C0.3,10 1.4,11.8 3.3,11.8 C5,11.8 6.2,10.3 6.2,8.2 C6.2,6 5,4.7 3.3,4.7 C1.8,4.7 0.7,5.6 0.3,7" stroke-width="1.95"/>
<path transform="translate(619.48,759.62) scale(1.0,1.0)" d="M1.9,2.5 C2.8,2.0 3.4,1.3 3.8,0.5 L3.8,12" stroke-width="1.95"/>
<path transform="translate(367.27,878.62) scale(1.0,1.0)" d="M0.5,9.6 C0.9,11 1.8,11.8 3.1,11.8 C5.1,11.8 6.1,9.4 6.1,5.6 C6.1,2 5,0.2 3.1,0.2 C1.4,0.2 0.2,1.7 0.2,3.8 C0.2,6 1.4,7.3 3.1,7.3 C4.6,7.3 5.7,6.4 6.1,5" stroke-width="1.95"/>
<path transform="translate(378.67,878.62) scale(1.0,1.0)" d="M0.4,3.1 C0.4,1.2 1.6,0.2 3.2,0.2 C4.9,0.2 6,1.3 6,3.1 C6,5.1 4.6,6.3 3,7.6 C1.5,8.8 0.4,10 0.3,11.8 L6.3,11.8" stroke-width="1.95"/>
<path transform="translate(390.07,878.62) scale(1.0,1.0)" d="M3.2,0.2 C5.1,0.2 6.2,2.6 6.2,6 C6.2,9.4 5.1,11.8 3.2,11.8 C1.3,11.8 0.2,9.4 0.2,6 C0.2,2.6 1.3,0.2 3.2,0.2 Z" stroke-width="1.95"/>
<path transform="translate(401.47,878.62) scale(1.0,1.0)" d="M0.4,3.1 C0.4,1.2 1.6,0.2 3.2,0.2 C4.9,0.2 6,1.3 6,3.1 C6,5.1 4.6,6.3 3,7.6 C1.5,8.8 0.4,10 0.3,11.8 L6.3,11.8" stroke-width="1.95"/>
<path transform="translate(412.88,878.62) scale(1.0,1.0)" d="M0.2,0.2 L6.2,0.2 C4.3,3.5 2.9,7.5 2.5,12" stroke-width="1.95"/>
<path transform="translate(545.48,983.62) scale(1.0,1.0)" d="M1.9,2.5 C2.8,2.0 3.4,1.3 3.8,0.5 L3.8,12" stroke-width="1.95"/>
<path transform="translate(556.88,983.62) scale(1.0,1.0)" d="M0.4,2.9 C0.6,1.1 1.8,0.2 3.2,0.2 C4.8,0.2 5.9,1.3 5.9,3 C5.9,4.7 4.7,5.7 2.9,5.7 M2.9,5.7 C5,5.7 6.2,7 6.2,8.7 C6.2,10.6 4.9,11.8 3.2,11.8 C1.6,11.8 0.4,10.8 0.2,9.1" stroke-width="1.95"/>
<path transform="translate(568.27,983.62) scale(1.0,1.0)" d="M0.4,3.1 C0.4,1.2 1.6,0.2 3.2,0.2 C4.9,0.2 6,1.3 6,3.1 C6,5.1 4.6,6.3 3,7.6 C1.5,8.8 0.4,10 0.3,11.8 L6.3,11.8" stroke-width="1.95"/>
<path transform="translate(579.68,983.62) scale(1.0,1.0)" d="M4.8,12 L4.8,0.2 L0.2,8.6 L6.5,8.6" stroke-width="1.95"/>
<path transform="translate(591.08,983.62) scale(1.0,1.0)" d="M0.4,3.1 C0.4,1.2 1.6,0.2 3.2,0.2 C4.9,0.2 6,1.3 6,3.1 C6,5.1 4.6,6.3 3,7.6 C1.5,8.8 0.4,10 0.3,11.8 L6.3,11.8" stroke-width="1.95"/>
<path transform="translate(793.57,1249.32) scale(1.0,1.0)" d="M1.9,2.5 C2.8,2.0 3.4,1.3 3.8,0.5 L3.8,12" stroke-width="1.95"/>
<path transform="translate(804.97,1249.32) scale(1.0,1.0)" d="M0.4,2.9 C0.6,1.1 1.8,0.2 3.2,0.2 C4.8,0.2 5.9,1.3 5.9,3 C5.9,4.7 4.7,5.7 2.9,5.7 M2.9,5.7 C5,5.7 6.2,7 6.2,8.7 C6.2,10.6 4.9,11.8 3.2,11.8 C1.6,11.8 0.4,10.8 0.2,9.1" stroke-width="1.95"/>
<path transform="translate(816.37,1249.32) scale(1.0,1.0)" d="M3.2,0.2 C5.1,0.2 6.2,2.6 6.2,6 C6.2,9.4 5.1,11.8 3.2,11.8 C1.3,11.8 0.2,9.4 0.2,6 C0.2,2.6 1.3,0.2 3.2,0.2 Z" stroke-width="1.95"/>
<path transform="translate(967.63,181.03) scale(0.6,0.68)" d="M6,0.2 L0.4,0.2 L0.4,11.8 L6.2,11.8 M0.4,5.8 L5.6,5.8" stroke-width="2.50"/>
<path transform="translate(976.33,181.03) scale(0.6,0.68)" d="M1.9,2.5 C2.8,2.0 3.4,1.3 3.8,0.5 L3.8,12" stroke-width="2.50"/>
<path transform="translate(985.03,181.03) scale(0.6,0.68)" d="M0.4,2.9 C0.6,1.1 1.8,0.2 3.2,0.2 C4.8,0.2 5.9,1.3 5.9,3 C5.9,4.7 4.7,5.7 2.9,5.7 M2.9,5.7 C5,5.7 6.2,7 6.2,8.7 C6.2,10.6 4.9,11.8 3.2,11.8 C1.6,11.8 0.4,10.8 0.2,9.1" stroke-width="2.50"/>
<path transform="translate(993.73,181.03) scale(0.6,0.68)" d="M0.2,0.2 L6.2,0.2 C4.3,3.5 2.9,7.5 2.5,12" stroke-width="2.50"/>
<path transform="translate(1002.43,181.03) scale(0.6,0.68)" d="M3.2,0.2 C5.1,0.2 6.2,2.6 6.2,6 C6.2,9.4 5.1,11.8 3.2,11.8 C1.3,11.8 0.2,9.4 0.2,6 C0.2,2.6 1.3,0.2 3.2,0.2 Z" stroke-width="2.50"/>
</g>
<g id="front">
<path d="M156.1,199.9 L162.4,196.8 L162.4,210 L212.7,237 L212.7,265.3 L205.9,269 L205.9,241.8 L156.1,213.5 Z" fill="#000"/>
<path d="M156.6,240.2 L162.9,244 L162.9,248.6 L156.1,251.7 Z" fill="#000"/>
<path d="M141.5,217.7 L156.1,199.9 L156.1,213.5 L205.9,241.8 L205.9,269 L156.6,240.2 L156.1,251.7 Z" fill="#fcfdfc" stroke="#000" stroke-width="1.3" stroke-linejoin="round"/>
<g transform="translate(149.2,214.6) skewY(30)" fill="none" stroke="#000" stroke-width="2.0">
<path transform="translate(0.00,0) scale(1.15,1.37)" d="M6,0.2 L0.6,0.2 L0.6,12 M0.6,5.8 L5,5.8" stroke-width="2.7"/>
<path transform="translate(11.80,0) scale(1.15,1.37)" d="M0.6,12 L0.6,0.2 L3.6,0.2 C5.2,0.2 6,1.4 6,3.2 C6,5 5.2,6.2 3.6,6.2 L0.6,6.2 M3.4,6.2 L6.2,12" stroke-width="2.7"/>
<path transform="translate(23.60,0) scale(1.15,1.37)" d="M3.2,0.2 C5.1,0.2 6.2,2.6 6.2,6 C6.2,9.4 5.1,11.8 3.2,11.8 C1.3,11.8 0.2,9.4 0.2,6 C0.2,2.6 1.3,0.2 3.2,0.2 Z" stroke-width="2.7"/>
<path transform="translate(35.40,0) scale(1.15,1.37)" d="M0.6,12 L0.6,0.2 L5.8,12 L5.8,0.2" stroke-width="2.7"/>
<path transform="translate(47.20,0) scale(1.15,1.37)" d="M0,0.2 L6.4,0.2 M3.2,0.2 L3.2,12" stroke-width="2.7"/>
</g>
</g>
</svg>
<svg class="wm" width="1146" height="1500" viewBox="0 0 1146 1500">
<path d="M436,652 C435,640 437,620 442.7,609.4 C447,598 450,592 455.8,584 C462,575 469,567 476.8,561.4 C485,555 494,551 502.9,547.4 C513,543 524,540.5 536,539.6 C548,538.7 560,539.5 571,541.3 C582,543 590,545.5 598,549" fill="none" stroke="#e8e8e8" stroke-linecap="round" stroke-linejoin="round" stroke-width="11.5"/>
<ellipse cx="480" cy="621.7" rx="37.5" ry="30.5" fill="#e8e8e8" stroke="none"/>
<ellipse cx="590" cy="598" rx="30" ry="29" fill="#e8e8e8" stroke="none"/>
<path d="M505,590 L566,572 L570,626 L510,645 Z" fill="#e8e8e8" stroke="none"/>
<path d="M499.9,560 L514.2,555.5 L525.5,598.1 L510.8,601 Z" fill="#e8e8e8" stroke="none"/>
<path d="M526.5,551.5 L538.7,548.5 L542.2,590 L531.7,593 Z" fill="#e8e8e8" stroke="none"/>
<ellipse cx="480.3" cy="624.3" rx="27" ry="17.5" fill="#fff"/>
<ellipse cx="575" cy="596" rx="10.5" ry="16" fill="#fff"/>
<path d="M470,646 C500,652 540,648 582,638" fill="none" stroke="#e8e8e8" stroke-linecap="round" stroke-linejoin="round" stroke-width="6"/>
<ellipse cx="433.5" cy="643.5" rx="10.5" ry="6.5" fill="#e8e8e8" stroke="none"/>
<path d="M430,628 L446,626 L446,646 L430,646 Z" fill="#e8e8e8" stroke="none"/>
<path d="M442,654.9 A34.2,34.2 0 1,1 418.6,654.9" fill="none" stroke="#e8e8e8" stroke-linecap="round" stroke-linejoin="round" stroke-width="9.4"/>
<path d="M423.4,645 L423.4,691 L446.5,691 L446.5,645" fill="none" stroke="#e8e8e8" stroke-linecap="round" stroke-linejoin="round" stroke-width="8"/>
<path d="M431,645 L442.8,685" fill="none" stroke="#e8e8e8" stroke-linecap="round" stroke-linejoin="round" stroke-width="6"/>
<path d="M417,718 L417,737 M453,718 L453,734" fill="none" stroke="#e8e8e8" stroke-linecap="round" stroke-linejoin="round" stroke-width="6"/>
<path d="M389,744 L440.7,731 L458.5,737 L481,722" fill="none" stroke="#e8e8e8" stroke-linecap="round" stroke-linejoin="round" stroke-width="9"/>
<path d="M389,744 L389,826 C395,850 410,875 440,896" fill="none" stroke="#e8e8e8" stroke-linecap="round" stroke-linejoin="round" stroke-width="9"/>
<path d="M467,650 C471,680 476,712 481,733 C485,748 490,758 500,762 C520,764 545,767 570,775 C590,781 605,786 620,790" fill="none" stroke="#e8e8e8" stroke-linecap="round" stroke-linejoin="round" stroke-width="8"/>
<path d="M615,786 C630,790 642,793 651.5,797.5 L674,781.5 L675,783 L652,799.5 C642,797 630,795 614,793 Z" fill="#e8e8e8" stroke="none"/>
<path d="M482,669 C488,660 500,655 512,657 C524,659 534,667 541,678 C532,671 522,665 511,663 C500,662 490,665 482,669 Z" fill="#e8e8e8" stroke="none"/>
<ellipse cx="517.5" cy="698.4" rx="23" ry="20" fill="none" stroke="#e8e8e8" stroke-linecap="round" stroke-linejoin="round" stroke-width="7"/>
<path d="M508,682 L513,682 L516,690 L523,690 L526,682 L531,683 C532,695 527,706 519,707 C512,707 508,697 508,682 Z" fill="#e8e8e8" stroke="none"/>
<path d="M559,689 C563,675 575,660 593,653 C580,662 570,675 563,690 Z" fill="#e8e8e8" stroke="none"/>
<path d="M567,686 C575,676 588,668 603,665 C592,671 582,679 572,688 Z" fill="#e8e8e8" stroke="none"/>
<path d="M553,718 C558,713 565,710 571,710" fill="none" stroke="#e8e8e8" stroke-linecap="round" stroke-linejoin="round" stroke-width="5"/>
<path d="M612,640 L631.6,715" fill="none" stroke="#e8e8e8" stroke-linecap="round" stroke-linejoin="round" stroke-width="8"/>
<path d="M633,680 L698,706 L617.6,751.7" fill="none" stroke="#e8e8e8" stroke-linecap="round" stroke-linejoin="round" stroke-width="8"/>
<path d="M657.7,727.3 C690,740 715,770 720.6,805" fill="none" stroke="#e8e8e8" stroke-linecap="round" stroke-linejoin="round" stroke-width="10"/>
<path d="M412,815 L447,829 L466,823 C480,812 490,800 500,790" fill="none" stroke="#e8e8e8" stroke-linecap="round" stroke-linejoin="round" stroke-width="7"/>
<path d="M447,829 L464,837 L496,861" fill="none" stroke="#e8e8e8" stroke-linecap="round" stroke-linejoin="round" stroke-width="7"/>
<path d="M449,832 C452,850 458,870 469,900" fill="none" stroke="#e8e8e8" stroke-linecap="round" stroke-linejoin="round" stroke-width="7"/>
<g transform="rotate(1.3 573.5 945.5)">
<rect x="338" y="904" width="471" height="83" rx="25" ry="25" fill="#e8e8e8"/>
<text x="373.5" y="962.2" font-size="45.2" font-weight="bold" fill="#fff" stroke="#fff" stroke-width="2.4" stroke-linejoin="round" style="font-family:'Liberation Sans',sans-serif" textLength="402" lengthAdjust="spacingAndGlyphs">WWW.CMSNL.COM</text>
</g>
<path d="M592,838 L592,816 C583,809 568,806.5 551,806.5 C525,806.5 509.3,826 509.3,854.7 C509.3,884 525,902.9 551,902.9 C570,902.9 585,897 594.5,888 L594.5,866 L566,866 C564,869 561,871 557,871 C550,871 545,864 545,855.4 C545,846 550,839.5 557,839.5 C561,839.5 564,842 566,845 L592,845 Z" fill="#e8e8e8" stroke="#e8e8e8" stroke-width="26" stroke-linejoin="round"/>
<path d="M593,902.9 L593,806.5 L627,806.5 L644,838 L661,806.5 L695,806.5 L695,902.9 L668,902.9 L668,852 L653,876 L635,876 L620,852 L620,902.9 Z" fill="#e8e8e8" stroke="#e8e8e8" stroke-width="26" stroke-linejoin="round"/>
<path d="M763,838 C757,830 746,826.5 732,826.5 C716,826.5 707,834 707,843 C707,853 718,857 732,860 C747,863 757,868 757,878 C757,888 747,894 732,894 C717,894 707,889 701,880" fill="none" stroke="#e8e8e8" stroke-linecap="round" stroke-linejoin="round" stroke-width="51"/>
<path d="M592,838 L592,816 C583,809 568,806.5 551,806.5 C525,806.5 509.3,826 509.3,854.7 C509.3,884 525,902.9 551,902.9 C570,902.9 585,897 594.5,888 L594.5,866 L566,866 C564,869 561,871 557,871 C550,871 545,864 545,855.4 C545,846 550,839.5 557,839.5 C561,839.5 564,842 566,845 L592,845 Z" fill="#fff"/>
<path d="M593,902.9 L593,806.5 L627,806.5 L644,838 L661,806.5 L695,806.5 L695,902.9 L668,902.9 L668,852 L653,876 L635,876 L620,852 L620,902.9 Z" fill="#fff"/>
<path d="M763,838 C757,830 746,826.5 732,826.5 C716,826.5 707,834 707,843 C707,853 718,857 732,860 C747,863 757,868 757,878 C757,888 747,894 732,894 C717,894 707,889 701,880" fill="none" stroke="#fff" stroke-width="26"/>
<path d="M630,880 L658,880 L660,900 L628,900 Z" fill="#e8e8e8"/>
<path d="M554,848.5 L561,855 L554,861 Z" fill="#fff"/>
</svg>
<div class="get">Get these parts at www.cmsnl.com !</div>
</body></html>
